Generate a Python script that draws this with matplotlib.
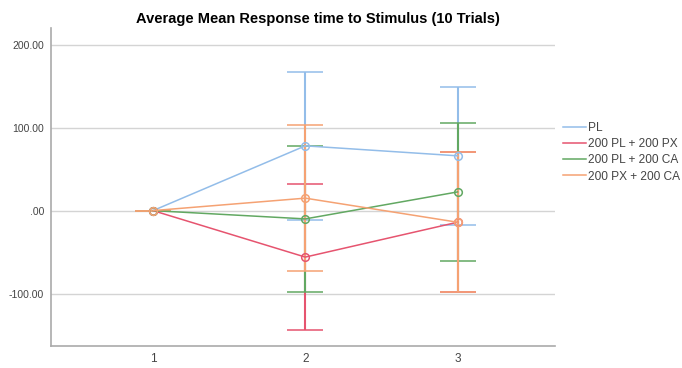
import matplotlib
matplotlib.use("Agg")
import matplotlib.pyplot as plt
from matplotlib.lines import Line2D

plt.rcParams['font.family'] = ['Liberation Sans', 'DejaVu Sans']

x_vals = [1, 2, 3]
series_names = ["PL", "200 PL + 200 PX", "200 PL + 200 CA", "200 PX + 200 CA"]
means = {
    "PL": [0, 78, 66],
    "200 PL + 200 PX": [0, -56, -14],
    "200 PL + 200 CA": [0, -10, 22.5],
    "200 PX + 200 CA": [0, 15, -14],
}
errors = {
    "PL": [0, 89, 83],
    "200 PL + 200 PX": [0, 88, 84],
    "200 PL + 200 CA": [0, 88, 83.5],
    "200 PX + 200 CA": [0, 88, 84],
}
colors = {
    "PL": "#93bde9",
    "200 PL + 200 PX": "#e6546f",
    "200 PL + 200 CA": "#62a862",
    "200 PX + 200 CA": "#f5a273",
}
y_ticks = [-100, 0, 100, 200]
y_tick_labels = ["-100.00", ".00", "100.00", "200.00"]

fig = plt.figure(figsize=(6.82, 3.68), dpi=100)
ax = fig.add_axes([0.0748, 0.060, 0.739, 0.864])

for name in series_names:
    c = colors[name]
    ax.errorbar(x_vals, means[name], yerr=errors[name], color=c, lw=1.1,
                elinewidth=1.5, capsize=13, capthick=1.5,
                marker='o', mfc='none', mec=c, ms=5.5, mew=1.1, zorder=3)

ax.set_xlim(0.33, 3.64)
ax.set_ylim(-163, 220)
ax.set_xticks(x_vals)
ax.set_xticklabels([str(v) for v in x_vals])
ax.set_yticks(y_ticks)
ax.set_yticklabels(y_tick_labels)
ax.yaxis.grid(True, color="#d4d4d4", lw=1)
ax.set_axisbelow(True)
for s in ["top", "right"]:
    ax.spines[s].set_visible(False)
for s in ["left", "bottom"]:
    ax.spines[s].set_color("#aaaaaa")
    ax.spines[s].set_linewidth(1.2)
ax.tick_params(axis='both', length=0, colors="#444444", labelsize=7.5, pad=5)
ax.tick_params(axis='x', labelsize=8.5)

handles = [Line2D([], [], color=colors[n], lw=1.1) for n in series_names]
leg = ax.legend(handles, series_names, loc='upper left', bbox_to_anchor=(1.015, 0.705),
                frameon=False, fontsize=8.6, handlelength=2.0, handletextpad=0.1,
                labelspacing=0.36, borderaxespad=0.0, borderpad=0.0)
for t in leg.get_texts():
    t.set_color("#444444")

fig.text(0.466, 0.948, "Average Mean Response time to Stimulus (10 Trials)",
         ha='center', va='center', fontsize=10.5, fontweight='bold')

fig.savefig("out.png", dpi=100)
